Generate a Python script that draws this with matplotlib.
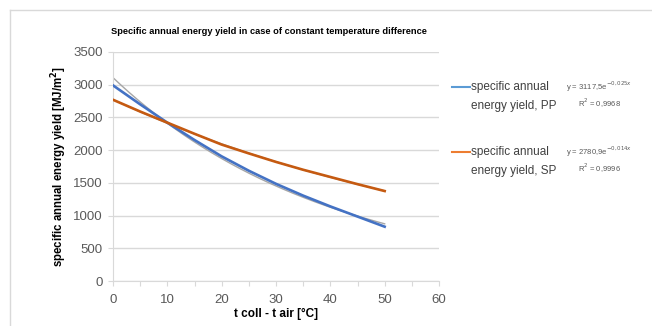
import matplotlib.pyplot as plt
import numpy as np
from matplotlib.lines import Line2D

plt.rcParams['font.family'] = ['Liberation Sans', 'DejaVu Sans']

# temperature difference and yields
dt = [0, 5, 10, 15, 20, 25, 30, 35, 40, 45, 50]
yield_pp = [2990, 2700, 2420, 2155, 1905, 1685, 1485, 1305, 1140, 985, 830]
yield_sp = [2770, 2590, 2420, 2250, 2085, 1950, 1820, 1700, 1590, 1480, 1375]

eq_pp = ['y = 3117,5e$^{-0,025x}$', 'R$^2$ = 0,9968']
eq_sp = ['y = 2780,9e$^{-0,014x}$', 'R$^2$ = 0,9996']

c_pp, c_sp = '#4472C4', '#C55A11'
c_pp_leg, c_sp_leg = '#5B9BD5', '#ED7D31'
grey = '#D9D9D9'
txt = '#404040'

fig = plt.figure(figsize=(6.52, 3.26), dpi=100)
ax = fig.add_axes([113 / 652, 1 - 281 / 326, 326 / 652, 229 / 326])

# exponential trendlines, fitted like Excel does (least squares on log y)
xs = np.linspace(0, 50, 200)
for yv in (yield_pp, yield_sp):
    b, a = np.polyfit(dt, np.log(yv), 1)
    ax.plot(xs, np.exp(a) * np.exp(b * xs), color='#A6A6A6', lw=1.0, zorder=2)

ax.plot(dt, yield_pp, color=c_pp, lw=1.9, zorder=3)
ax.plot(dt, yield_sp, color=c_sp, lw=1.9, zorder=3)

ax.set_xlim(0, 60)
ax.set_ylim(0, 3500)
ax.set_xticks(range(0, 61, 10))
ax.set_xticks(range(0, 61, 5), minor=True)
ax.set_yticks(range(0, 3501, 500))
ax.grid(axis='y', color=grey, lw=1.0)
ax.set_axisbelow(True)
for s in ('top', 'right'):
    ax.spines[s].set_visible(False)
for s in ('left', 'bottom'):
    ax.spines[s].set_color(grey)
ax.tick_params(which='both', colors=grey, length=3.5, width=0.8, labelcolor='#595959', labelsize=9.5)
ax.tick_params(axis='y', pad=4)
ax.tick_params(axis='x', pad=6)

ax.set_xlabel('t coll - t air [°C]', fontsize=8.5, fontweight='bold', color='black', labelpad=1)
ax.set_ylabel('specific annual energy yield [MJ/m$^\\mathbf{2}$]', fontsize=8.3, fontweight='bold',
              color='black', labelpad=3)
fig.text(269 / 652, 1 - 32 / 326, 'Specific annual energy yield in case of constant temperature difference',
         ha='center', va='center', fontsize=6.7, fontweight='bold', color='black')

# legend drawn by hand to match the layout
for (y0, col, lab, eq) in ((87, c_pp_leg, 'PP', eq_pp), (152, c_sp_leg, 'SP', eq_sp)):
    fy = 1 - y0 / 326
    fig.add_artist(Line2D([452 / 652, 470 / 652], [fy, fy], color=col, lw=1.5))
    fig.text(471 / 652, fy, 'specific annual', ha='left', va='center', fontsize=8.5, color=txt)
    fig.text(471 / 652, 1 - (y0 + 19) / 326, 'energy yield, ' + lab, ha='left', va='center',
             fontsize=8.5, color=txt)
    fig.text(599 / 652, fy, eq[0], ha='center', va='center', fontsize=5.5, color='#595959')
    fig.text(599 / 652, 1 - (y0 + 16) / 326, eq[1], ha='center', va='center', fontsize=5.5, color='#595959')

# chart area border
fig.add_artist(Line2D([10 / 652, 1], [1 - 10 / 326] * 2, color=grey, lw=1))
fig.add_artist(Line2D([10 / 652] * 2, [0, 1 - 10 / 326], color=grey, lw=1))

fig.savefig('out.png', dpi=100)
